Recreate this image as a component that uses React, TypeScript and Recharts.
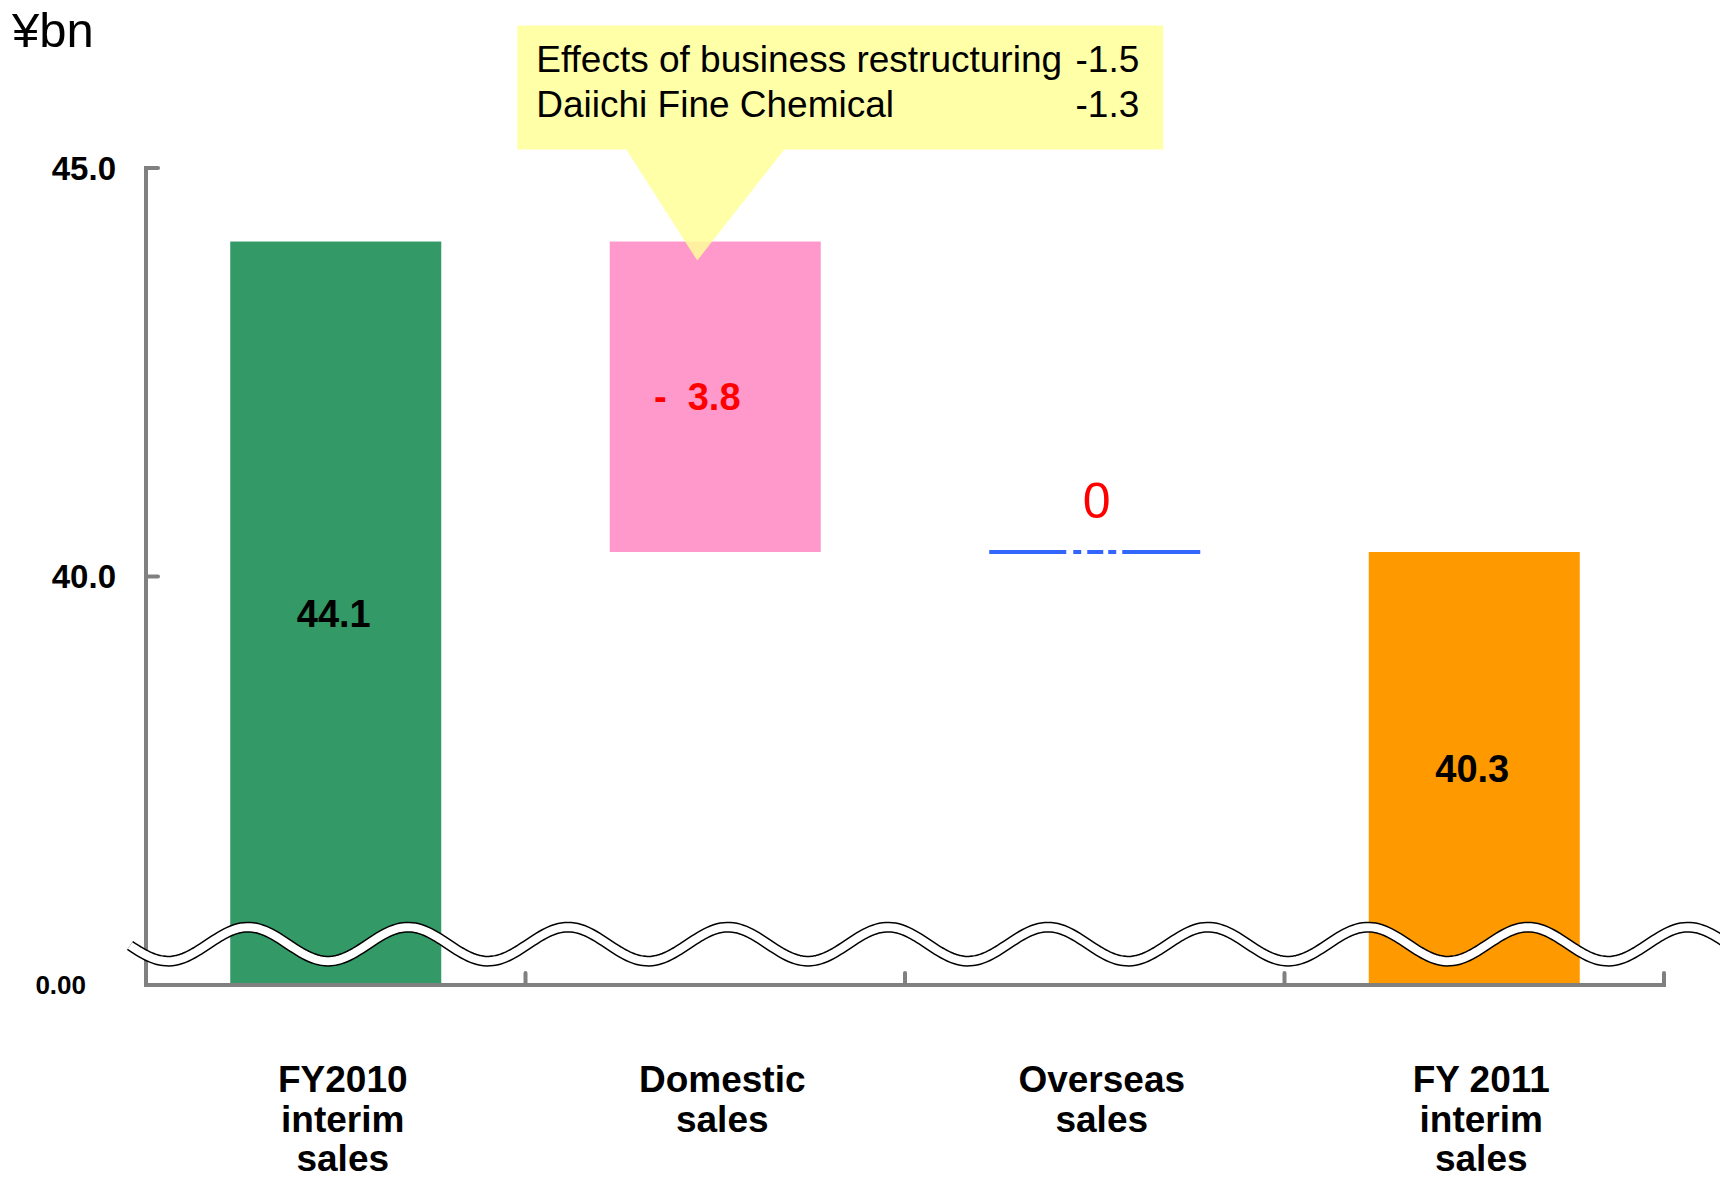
import React from "react";
import { BarChart, Bar, XAxis, YAxis, LabelList, ReferenceLine, ReferenceDot } from "recharts";

// waterfall: first and last are totals, the middle two are changes
const categories = ["FY2010 interim sales", "Domestic sales", "Overseas sales", "FY 2011 interim sales"];
const categoryLines = [
  ["FY2010", "interim", "sales"],
  ["Domestic", "sales"],
  ["Overseas", "sales"],
  ["FY 2011", "interim", "sales"],
];
const values = [44.1, -3.8, 0, 40.3];
const isTotal = [true, false, false, true];
const valueLabels = ["44.1", "-  3.8", "0", "40.3"];
const barColors = ["#339966", "#FF99CC", "#3366FF", "#FF9900"];

// the axis is broken: its floor (35) is labelled 0.00
const axisFloor = 35;
const axisTop = 45;
const yTicks = [35, 40, 45];
const breakAt = 35.5;

const calloutLines = [
  ["Effects of business restructuring", "-1.5"],
  ["Daiichi Fine Chemical", "-1.3"],
];

const FONT = "'Liberation Sans', Arial, Helvetica, sans-serif";
const W = 1720;
const H = 1179;
const MARGIN = { top: 168, right: 56, left: 0, bottom: 0 };
const Y_AXIS_W = 146;
const X_AXIS_H = 194;
const HALF_BAND = (W - MARGIN.left - MARGIN.right - Y_AXIS_W) / categories.length / 2;
const AXIS_GRAY = "#808080";

let running = 0;
const data = categories.map((name, i) => {
  let range: [number, number];
  if (isTotal[i]) {
    range = [axisFloor, values[i]];
    running = values[i];
  } else {
    const next = Math.round((running + values[i]) * 10) / 10;
    range = [Math.min(running, next), Math.max(running, next)];
    running = next;
  }
  return { name, range, label: valueLabels[i] };
});

const YTick = (props: any) => {
  const { x, y, payload } = props;
  const v = payload.value;
  if (v === axisFloor) {
    return (
      <text x={x - 60} y={y} dy="0.35em" textAnchor="end" fontFamily={FONT} fontWeight="bold" fontSize={26} fill="#000">
        0.00
      </text>
    );
  }
  return (
    <g>
      <line x1={x} x2={x + 12} y1={y} y2={y} stroke={AXIS_GRAY} strokeWidth={4} strokeLinecap="round" />
      <text x={x - 30} y={y} dy="0.35em" textAnchor="end" fontFamily={FONT} fontWeight="bold" fontSize={33} fill="#000">
        {Number(v).toFixed(1)}
      </text>
    </g>
  );
};

const XTick = (props: any) => {
  const { x, y, payload, index } = props;
  const half = payload && payload.offset ? payload.offset : HALF_BAND;
  const i = typeof index === "number" ? index : categories.indexOf(payload.value);
  const lines = categoryLines[i] || [String(payload.value)];
  return (
    <g>
      <line x1={x + half} x2={x + half} y1={y} y2={y - 12} stroke={AXIS_GRAY} strokeWidth={4} strokeLinecap="round" />
      <text x={x + 7} y={y + 107} textAnchor="middle" fontFamily={FONT} fontWeight="bold" fontSize={37} fill="#000">
        {lines.map((t, k) => (
          <tspan key={k} x={x + 7} dy={k === 0 ? 0 : 39.5}>
            {t}
          </tspan>
        ))}
      </text>
    </g>
  );
};

const BarShape = (props: any) => {
  const { x, y, width, height, payload } = props;
  const i = typeof props.index === "number" ? props.index : categories.indexOf(payload?.name);
  const top = Math.min(y, y + height);
  const h = Math.abs(height);
  if (h < 1) {
    return (
      <line
        x1={x}
        x2={x + width}
        y1={top}
        y2={top}
        stroke={barColors[i]}
        strokeWidth={4}
        strokeDasharray="77 7 8 6 16 5 8 6 79"
      />
    );
  }
  return <rect x={x} y={top} width={width} height={h} fill={barColors[i]} />;
};

const ValueLabel = (props: any) => {
  const { x, y, width, height, index, value } = props;
  const i = typeof index === "number" ? index : valueLabels.indexOf(value);
  const cx = x + width / 2;
  const top = Math.min(y, y + height);
  const mid = top + Math.abs(height) / 2;
  if (values[i] === 0) {
    return (
      <text x={cx + 2} y={top - 34} textAnchor="middle" fontFamily={FONT} fontSize={50} fill="#FF0000">
        {valueLabels[i]}
      </text>
    );
  }
  const neg = values[i] < 0;
  return (
    <text
      x={neg ? cx - 18 : cx - 2}
      y={mid}
      dy="0.35em"
      textAnchor="middle"
      fontFamily={FONT}
      fontWeight="bold"
      fontSize={38}
      fill={neg ? "#FF0000" : "#000000"}
      style={{ whiteSpace: "pre" }}
    >
      {valueLabels[i]}
    </text>
  );
};

// double wavy line marking the broken axis
const WaveBreak = (props: any) => {
  const { x1, y1, x2 } = props;
  const start = x1 - 16;
  const end = x2 + 70;
  const period = 160;
  const amp = 17;
  const firstPeak = x1 + 102;
  let d = "";
  for (let px = start; px <= end; px += 3) {
    const py = y1 - amp * Math.cos((2 * Math.PI * (px - firstPeak)) / period);
    d += (d ? " L " : "M ") + px.toFixed(1) + " " + py.toFixed(2);
  }
  return (
    <g>
      <path d={d} fill="none" stroke="#000" strokeWidth={11} />
      <path d={d} fill="none" stroke="#fff" strokeWidth={8} />
    </g>
  );
};

const Callout = (props: any) => {
  const { cx, cy } = props;
  const left = cx - 198;
  const right = cx + 448;
  const top = cy - 216;
  const bottom = cy - 92;
  const d = `M ${left} ${top} H ${right} V ${bottom} H ${cx + 69} L ${cx - 18} ${cy + 19} L ${cx - 89} ${bottom} H ${left} Z`;
  return (
    <g>
      <path d={d} fill="#FFFF99" fillOpacity={0.85} />
      {calloutLines.map(([label, val], k) => (
        <g key={k}>
          <text x={left + 19} y={top + 46 + k * 45} fontFamily={FONT} fontSize={37} fill="#000">
            {label}
          </text>
          <text x={right - 24} y={top + 46 + k * 45} textAnchor="end" fontFamily={FONT} fontSize={37} fill="#000">
            {val}
          </text>
        </g>
      ))}
    </g>
  );
};

export default function App() {
  return (
    <div style={{ position: "absolute", left: 0, top: 0, width: W, height: H, background: "#fff" }}>
      <div style={{ position: "absolute", left: 12, top: 2, fontFamily: FONT, fontSize: 49, color: "#000", lineHeight: "56px" }}>
        ¥bn
      </div>
      <BarChart width={W} height={H} data={data} margin={MARGIN} barCategoryGap="22.2%">
        <XAxis
          dataKey="name"
          height={X_AXIS_H}
          interval={0}
          tickSize={0}
          tickMargin={0}
          tickLine={false}
          tick={<XTick />}
          axisLine={{ stroke: AXIS_GRAY, strokeWidth: 4, strokeLinecap: "square" }}
        />
        <YAxis
          width={Y_AXIS_W}
          domain={[axisFloor, axisTop]}
          ticks={yTicks}
          allowDataOverflow
          tickSize={0}
          tickMargin={0}
          tickLine={false}
          tick={<YTick />}
          axisLine={{ stroke: AXIS_GRAY, strokeWidth: 4, strokeLinecap: "square" }}
        />
        <Bar dataKey="range" isAnimationActive={false} shape={<BarShape />}>
          <LabelList dataKey="label" content={<ValueLabel />} />
        </Bar>
        <ReferenceLine y={breakAt} shape={<WaveBreak />} zIndex={550} ifOverflow="visible" />
        <ReferenceDot x={categories[1]} y={values[0]} r={0} shape={<Callout />} zIndex={650} />
      </BarChart>
    </div>
  );
}
